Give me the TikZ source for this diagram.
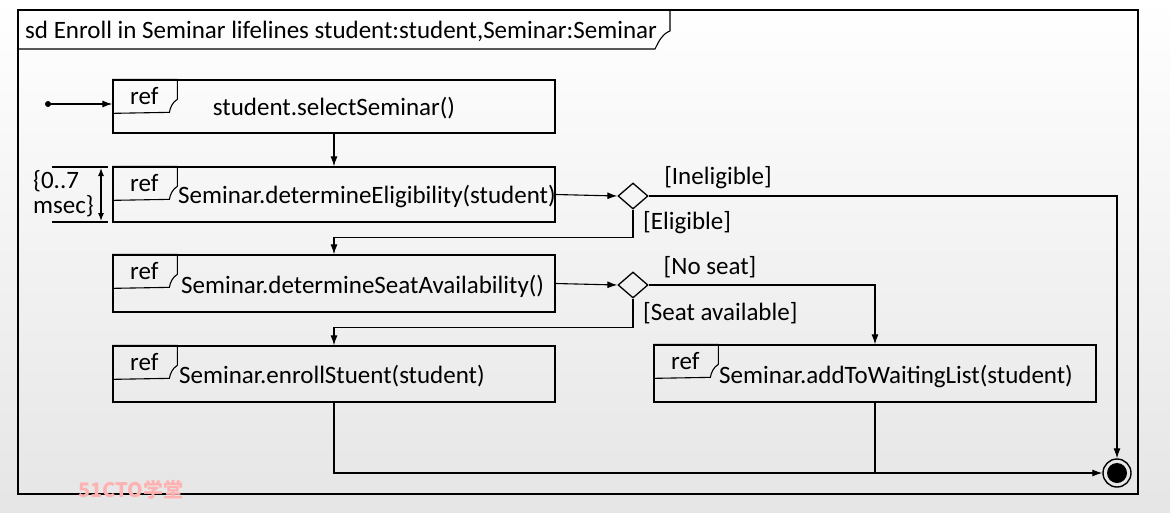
\documentclass[tikz,border=0pt]{standalone}
\usepackage{fontspec}
\setmainfont{Carlito}
\newfontfamily\cjk{Noto Sans CJK SC}
\usetikzlibrary{arrows.meta,shapes.geometric,calc}
\tikzset{
  box/.style={draw,line width=1.3pt,rectangle,inner sep=0pt,minimum width=442pt},
  lbl/.style={inner sep=0pt,font=\fontsize{25}{26}\selectfont},
  dec/.style={draw,diamond,line width=1.3pt,inner sep=0pt,minimum width=30pt,minimum height=26pt},
  flow/.style={line width=1.1pt,-{Latex[length=10pt,width=7pt]}},
  plain/.style={line width=1.1pt},
  reftab/.pic={
    \draw[line width=1.1pt] (0,0) -- (65,0) -- (65,20) .. controls (60,23) and (58,28) .. (57,33) -- (0,34);
    \node[lbl] at (32,17) {ref};
  }
}
\begin{document}
\begin{tikzpicture}[x=1pt,y=-1pt]
\useasboundingbox (0,0) rectangle (1170,512);
\shade[top color=white,bottom color=black!10] (0,0) rectangle (1170,512);
% frame
\draw[line width=1.4pt] (18,10) rectangle (1138,494);
\draw[line width=1.1pt] (18,49) -- (655,49) .. controls (659,41) and (662,34) .. (670,31) -- (670,10);
\node[lbl,anchor=west] (title) at (25,31) {sd Enroll in Seminar lifelines student:student,Seminar:Seminar};
% boxes
\node[box,minimum height=53pt] (b1) at (334,106.5) {};
\node[box,minimum height=55pt] (b2) at (334,194.5) {};
\node[box,minimum height=57pt] (b3) at (334,283.5) {};
\node[box,minimum height=56pt] (b4) at (334,374) {};
\node[box,minimum height=57pt] (b5) at (875,373.5) {};
\pic at (b1.north west) {reftab};
\pic at (b2.north west) {reftab};
\pic at (b3.north west) {reftab};
\pic at (b4.north west) {reftab};
\pic at (b5.north west) {reftab};
\node[lbl] (t1) at (334,108) {student.selectSeminar()};
\node[lbl,anchor=west] (t2) at (178,196) {Seminar.determineEligibility(student)};
\node[lbl,anchor=west] (t3) at (181,286) {Seminar.determineSeatAvailability()};
\node[lbl,anchor=west] (t4) at (179,376) {Seminar.enrollStuent(student)};
\node[lbl,anchor=west] (t5) at (719,376) {Seminar.addToWaitingList(student)};
% decisions
\node[dec] (d1) at (633,196) {};
\node[dec] (d2) at (633,285) {};
\node[lbl] (g1) at (718,178) {[Ineligible]};
\node[lbl,anchor=west] (g2) at (643,223) {[Eligible]};
\node[lbl] (g3) at (710,267) {[No seat]};
\node[lbl,anchor=west] (g4) at (643,313) {[Seat available]};
% initial and final
\coordinate (init) at (48,104);
\fill (init) circle (3pt);
\node[circle,draw,line width=1.4pt,minimum size=28pt,inner sep=0pt] (fin) at (1117,473) {};
\fill (fin.center) circle (10pt);
% flows
\draw[flow] (init) -- (init -| b1.west);
\draw[flow] (b1.south) -- (b2.north);
\draw[flow] (b2.east) -- (d1.west);
\draw[flow] (d1.east) -| (fin.north);
\draw[flow] (d1.south) -- ++(0,28) -| (b3.north);
\draw[flow] (b3.east) -- (d2.west);
\draw[flow] (d2.east) -| (b5.north);
\draw[flow] (d2.south) -- ++(0,29) -| (b4.north);
\draw[flow] (b4.south) |- (fin.west);
\draw[plain] (b5.south) -- (b5.south |- fin.west);
% timing constraint
\coordinate (tc1) at (52,167);
\coordinate (tc2) at (52,222);
\draw[plain] (tc1) -- (108,167);
\draw[plain] (tc2) -- (108,222);
\draw[line width=1.1pt,{Latex[length=8pt,width=6pt]}-{Latex[length=8pt,width=6pt]}] (101,168) -- (101,221);
\node[lbl,anchor=west] (tc) at (33,196) {\begin{tabular}{@{}l@{}}\{0..7\\[-1pt]msec\}\end{tabular}};
% watermark
\node[inner sep=0pt,text=red!30,font=\cjk\bfseries\fontsize{20}{20}\selectfont] (wm) at (131,490) {51CTO学堂};
\end{tikzpicture}
\end{document}
